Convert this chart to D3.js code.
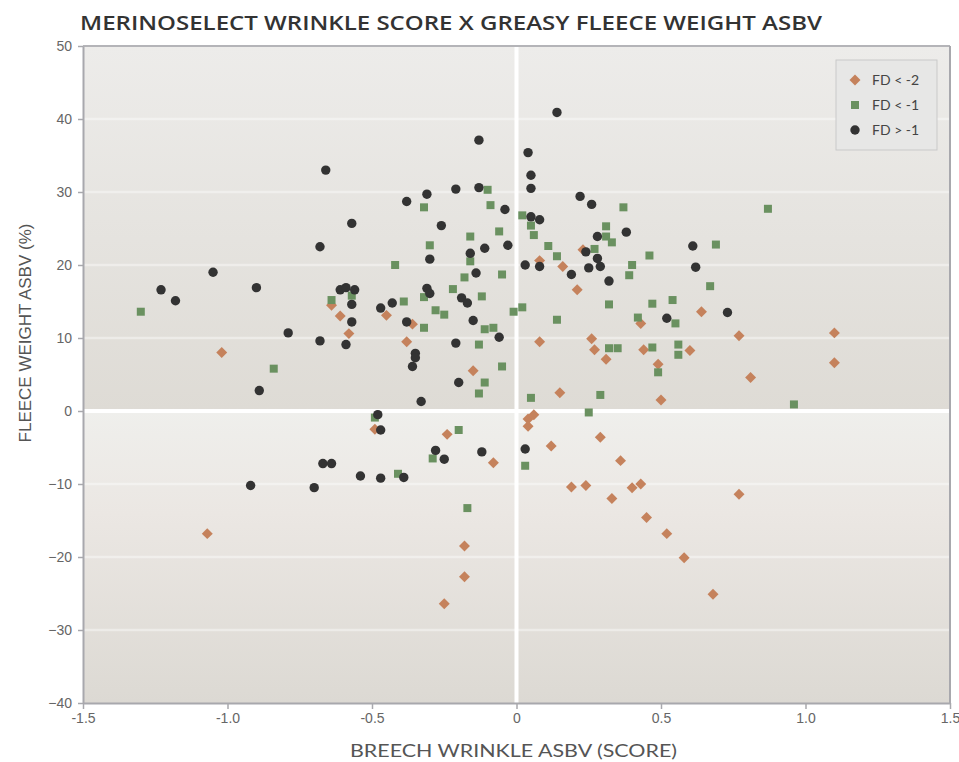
<!DOCTYPE html>
<html>
<head>
<meta charset="utf-8">
<script src="https://cdn.jsdelivr.net/npm/d3@7"></script>
<style>
  body { margin: 0; background: #ffffff; }
  svg { display: block; }
</style>
</head>
<body>
<svg id="chart"></svg>
<script>
// FD < -2 (diamonds)
const diamondX = [-0.64, -0.61, -0.58, -1.02, -0.45, -0.36, -0.38, -0.15, 0.08, 0.08, 0.16, 0.23, 0.21, 0.26, 0.27, 0.15,
  -0.49, -0.24, 0.04, 0.06, 0.04, 0.64, 0.43, 0.31, 0.44, 0.60, 0.49, 0.77, 1.10, 1.10, 0.81, 0.50,
  -0.08, -1.07, -0.18, -0.18, -0.25, 0.12, 0.29, 0.36, 0.19, 0.24, 0.33, 0.40, 0.43, 0.77, 0.45, 0.52, 0.58, 0.68];
const diamondY = [14.5, 13.0, 10.6, 8.0, 13.1, 11.9, 9.5, 5.5, 9.5, 20.6, 19.8, 22.1, 16.6, 9.9, 8.4, 2.5,
  -2.5, -3.2, -1.1, -0.5, -2.1, 13.6, 12.0, 7.1, 8.4, 8.3, 6.4, 10.3, 10.7, 6.6, 4.6, 1.5,
  -7.1, -16.8, -18.5, -22.7, -26.4, -4.8, -3.6, -6.8, -10.4, -10.2, -12.0, -10.5, -10.0, -11.4, -14.6, -16.8, -20.1, -25.1];

// FD < -1 (squares)
const squareX = [-1.30, -0.64, -0.57, -0.84, -0.10, -0.32, -0.09, 0.02, 0.05, 0.06, -0.06, -0.16, -0.30, 0.11, 0.14, 0.27,
  -0.16, -0.42, -0.18, -0.05, -0.22, -0.12, -0.32, -0.39, -0.28, -0.25, -0.01, 0.02, 0.14, -0.32, -0.11, -0.08,
  -0.13, -0.05, -0.11, -0.13, 0.05, 0.25, 0.29, -0.49, -0.20, 0.37, 0.87, 0.31, 0.31, 0.33, 0.69, 0.46,
  0.40, 0.39, 0.67, 0.32, 0.47, 0.54, 0.42, 0.55, 0.32, 0.35, 0.47, 0.56, 0.56, 0.49, 0.96, -0.29,
  -0.41, -0.17, 0.03];
const squareY = [13.6, 15.2, 15.8, 5.8, 30.3, 27.9, 28.2, 26.8, 25.4, 24.1, 24.6, 23.9, 22.7, 22.6, 21.2, 22.2,
  20.5, 20.0, 18.3, 18.7, 16.7, 15.7, 15.6, 15.0, 13.8, 13.2, 13.6, 14.2, 12.5, 11.4, 11.2, 11.4,
  9.1, 6.1, 3.9, 2.4, 1.8, -0.2, 2.2, -0.9, -2.6, 27.9, 27.7, 25.3, 23.9, 23.1, 22.8, 21.3,
  20.0, 18.6, 17.1, 14.6, 14.7, 15.2, 12.8, 12.0, 8.6, 8.6, 8.7, 9.1, 7.7, 5.3, 0.9, -6.5,
  -8.6, -13.3, -7.5];

// FD > -1 (circles)
const circleX = [-1.23, -1.18, -1.05, -0.90, -0.79, -0.89, -0.92, -0.66, -0.68, -0.68, -0.70, -0.67, -0.64, -0.61, -0.59, -0.56,
  -0.57, -0.57, -0.59, -0.57, 0.14, -0.13, 0.04, 0.05, 0.05, -0.21, -0.13, -0.31, -0.38, -0.04, 0.22, 0.26,
  -0.26, 0.05, 0.08, -0.30, -0.11, -0.16, -0.03, 0.03, 0.08, 0.19, 0.25, 0.28, 0.24, 0.28, 0.29, -0.14,
  -0.31, -0.30, -0.47, -0.43, -0.19, -0.17, -0.38, -0.15, -0.06, -0.21, -0.35, -0.35, -0.36, -0.20, -0.33, -0.48,
  -0.47, 0.38, 0.32, 0.61, 0.62, 0.52, 0.73, -0.28, -0.25, -0.12, -0.54, -0.47, -0.39, 0.03];
const circleY = [16.6, 15.1, 19.0, 16.9, 10.7, 2.8, -10.2, 33.0, 22.5, 9.6, -10.5, -7.2, -7.2, 16.6, 16.9, 16.6,
  14.6, 12.2, 9.1, 25.7, 40.9, 37.1, 35.4, 32.3, 30.5, 30.4, 30.6, 29.7, 28.7, 27.6, 29.4, 28.3,
  25.4, 26.6, 26.2, 20.8, 22.3, 21.6, 22.7, 20.0, 19.8, 18.7, 19.6, 23.9, 21.8, 20.9, 19.8, 18.9,
  16.8, 16.1, 14.1, 14.8, 15.5, 14.8, 12.2, 12.4, 10.1, 9.3, 7.9, 7.3, 6.1, 3.9, 1.3, -0.5,
  -2.6, 24.5, 17.8, 22.6, 19.7, 12.7, 13.5, -5.4, -6.6, -5.6, -8.9, -9.2, -9.1, -5.2];

const xTicks = [-1.5, -1.0, -0.5, 0, 0.5, 1.0, 1.5];
const xTickLabels = ['-1.5', '-1.0', '-0.5', '0', '0.5', '1.0', '1.5'];
const yTicks = [-40, -30, -20, -10, 0, 10, 20, 30, 40, 50];
const seriesNames = ['FD < -2', 'FD < -1', 'FD > -1'];

const chartTitle = 'MERINOSELECT WRINKLE SCORE X GREASY FLEECE WEIGHT ASBV';
const xTitle = 'BREECH WRINKLE ASBV (SCORE)';
const yTitle = 'FLEECE WEIGHT ASBV (%)';

const width = 959;
const height = 762;
const margin = { top: 46, right: 9, bottom: 59, left: 83 };

const svg = d3.select('#chart').attr('width', width).attr('height', height);

const x = d3.scaleLinear().domain([-1.5, 1.5]).range([margin.left, width - margin.right]);
const y = d3.scaleLinear().domain([-40, 50]).range([height - margin.bottom, margin.top]);

const colors = { diamond: '#c5825c', square: '#6a9160', circle: '#333333' };

drawBackground();
drawGrid();
drawAxes();
drawPoints();
drawLegend();
drawTitles();

function drawBackground() {
  const defs = svg.append('defs');
  const top = defs.append('linearGradient').attr('id', 'bg-top')
    .attr('x1', 0).attr('x2', 0).attr('y1', 0).attr('y2', 1);
  top.append('stop').attr('offset', '0%').attr('stop-color', '#edecea');
  top.append('stop').attr('offset', '100%').attr('stop-color', '#dedbd5');

  const bottom = defs.append('linearGradient').attr('id', 'bg-bottom')
    .attr('x1', 0).attr('x2', 0).attr('y1', 0).attr('y2', 1);
  bottom.append('stop').attr('offset', '0%').attr('stop-color', '#efefec');
  bottom.append('stop').attr('offset', '35%').attr('stop-color', '#ebe7e3');
  bottom.append('stop').attr('offset', '100%').attr('stop-color', '#dcd9d3');

  svg.append('rect')
    .attr('x', x(-1.5)).attr('y', y(50))
    .attr('width', x(1.5) - x(-1.5)).attr('height', y(0) - y(50))
    .attr('fill', 'url(#bg-top)');
  svg.append('rect')
    .attr('x', x(-1.5)).attr('y', y(0))
    .attr('width', x(1.5) - x(-1.5)).attr('height', y(-40) - y(0))
    .attr('fill', 'url(#bg-bottom)');
}

function drawGrid() {
  svg.append('g').attr('id', 'y-grid')
    .selectAll('line')
    .data(yTicks.filter(d => d !== 0 && d !== 50 && d !== -40))
    .enter()
    .append('line')
    .attr('x1', x(-1.5)).attr('x2', x(1.5))
    .attr('y1', d => y(d)).attr('y2', d => y(d))
    .attr('stroke', '#ffffff')
    .attr('stroke-opacity', 0.4)
    .attr('stroke-width', 2.5);

  // zero lines
  svg.append('line')
    .attr('x1', x(-1.5)).attr('x2', x(1.5))
    .attr('y1', y(0)).attr('y2', y(0))
    .attr('stroke', '#ffffff').attr('stroke-width', 4);
  svg.append('line')
    .attr('x1', x(0)).attr('x2', x(0))
    .attr('y1', y(50)).attr('y2', y(-40))
    .attr('stroke', '#ffffff').attr('stroke-width', 4);
}

function drawAxes() {
  // top and right frame
  svg.append('line')
    .attr('x1', x(-1.5)).attr('x2', x(1.5))
    .attr('y1', y(50)).attr('y2', y(50))
    .attr('stroke', '#b4b4b8').attr('stroke-width', 2);
  svg.append('line')
    .attr('x1', x(1.5)).attr('x2', x(1.5))
    .attr('y1', y(50)).attr('y2', y(-40))
    .attr('stroke', '#a8a8ad').attr('stroke-width', 2);

  const yAxis = svg.append('g')
    .attr('id', 'y-axis')
    .attr('transform', `translate(${margin.left}, 0)`)
    .call(d3.axisLeft(y).tickValues(yTicks).tickSize(5).tickPadding(6).tickSizeOuter(0));

  const xAxis = svg.append('g')
    .attr('id', 'x-axis')
    .attr('transform', `translate(0, ${height - margin.bottom})`)
    .call(d3.axisBottom(x).tickValues(xTicks).tickSize(6).tickPadding(4).tickSizeOuter(0)
      .tickFormat((d, i) => xTickLabels[i]));

  [xAxis, yAxis].forEach(axis => {
    axis.select('.domain').attr('stroke', '#a8a8ad').attr('stroke-width', 2);
    axis.selectAll('.tick line').attr('stroke', '#a8a8ad').attr('stroke-width', 1.5);
    axis.selectAll('.tick text')
      .attr('fill', '#666666')
      .style('font-family', '"Liberation Sans", Arial, sans-serif')
      .style('font-size', '14px');
  });
}

function drawPoints() {
  const square = d3.symbol().type(d3.symbolSquare).size(64);
  const diamond = d3.symbol().type(d3.symbolSquare).size(60);

  svg.append('g').attr('id', 'diamonds')
    .selectAll('path')
    .data(diamondX.map((d, i) => [d, diamondY[i]]))
    .enter()
    .append('path')
    .attr('d', diamond)
    .attr('transform', d => `translate(${x(d[0])}, ${y(d[1])}) rotate(45)`)
    .attr('fill', colors.diamond);

  svg.append('g').attr('id', 'squares')
    .selectAll('path')
    .data(squareX.map((d, i) => [d, squareY[i]]))
    .enter()
    .append('path')
    .attr('d', square)
    .attr('transform', d => `translate(${x(d[0])}, ${y(d[1])})`)
    .attr('fill', colors.square);

  svg.append('g').attr('id', 'circles')
    .selectAll('circle')
    .data(circleX.map((d, i) => [d, circleY[i]]))
    .enter()
    .append('circle')
    .attr('cx', d => x(d[0]))
    .attr('cy', d => y(d[1]))
    .attr('r', 4.7)
    .attr('fill', colors.circle);
}

function drawLegend() {
  const legend = svg.append('g').attr('id', 'legend').attr('transform', 'translate(836, 60)');
  legend.append('rect')
    .attr('width', 101).attr('height', 90)
    .attr('fill', '#e7e7e6')
    .attr('stroke', '#c9c9c9');

  const items = legend.selectAll('.legend-item')
    .data(seriesNames)
    .enter()
    .append('g')
    .attr('class', 'legend-item')
    .attr('transform', (d, i) => `translate(19, ${20 + i * 25})`);

  items.each(function (d, i) {
    const g = d3.select(this);
    if (i === 0) {
      g.append('path').attr('d', d3.symbol().type(d3.symbolSquare).size(60))
        .attr('transform', 'rotate(45)').attr('fill', colors.diamond);
    } else if (i === 1) {
      g.append('path').attr('d', d3.symbol().type(d3.symbolSquare).size(64)).attr('fill', colors.square);
    } else {
      g.append('circle').attr('r', 4.7).attr('fill', colors.circle);
    }
  });

  items.append('text')
    .attr('x', 17)
    .attr('dy', '0.35em')
    .attr('fill', '#444444')
    .style('font-family', 'Lato, "Open Sans", sans-serif')
    .style('font-size', '14px')
    .text(d => d);
}

function drawTitles() {
  svg.append('text')
    .attr('x', 80).attr('y', 30)
    .attr('fill', '#333333')
    .attr('textLength', 742)
    .attr('lengthAdjust', 'spacingAndGlyphs')
    .style('font-family', '"Open Sans", Lato, sans-serif')
    .style('font-weight', 600)
    .style('font-size', '19px')
    .text(chartTitle);

  svg.append('text')
    .attr('x', 350).attr('y', 757)
    .attr('fill', '#555555')
    .attr('textLength', 327)
    .attr('lengthAdjust', 'spacingAndGlyphs')
    .style('font-family', 'Lato, "Open Sans", sans-serif')
    .style('font-size', '18px')
    .text(xTitle);

  svg.append('text')
    .attr('transform', 'translate(31, 333) rotate(-90)')
    .attr('text-anchor', 'middle')
    .attr('fill', '#555555')
    .style('font-family', '"Liberation Sans", Arial, sans-serif')
    .style('font-size', '17px')
    .text(yTitle);
}
</script>
</body>
</html>
